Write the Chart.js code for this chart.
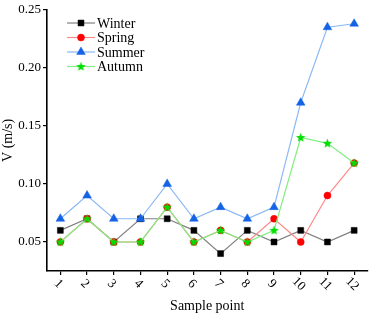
<!DOCTYPE html>
<html>
<head>
<meta charset="utf-8">
<script src="https://cdn.jsdelivr.net/npm/chart.js@4/dist/chart.umd.min.js"></script>
<style>
  html, body { margin: 0; padding: 0; background: #fff; }
  #wrap { width: 373px; height: 316px; }
</style>
</head>
<body>
<div id="wrap"><canvas id="c" width="373" height="316"></canvas></div>
<script>
const samplePoints = ['1','2','3','4','5','6','7','8','9','10','11','12'];
const winter = [0.06, 0.07, 0.05, 0.07, 0.07, 0.06, 0.04, 0.06, 0.05, 0.06, 0.05, 0.06];
const spring = [0.05, 0.07, 0.05, 0.05, 0.08, 0.05, 0.06, 0.05, 0.07, 0.05, 0.09, 0.118];
const summer = [0.07, 0.09, 0.07, 0.07, 0.10, 0.07, 0.08, 0.07, 0.08, 0.17, 0.235, 0.238];
const autumn = [0.05, 0.07, 0.05, 0.05, 0.08, 0.05, 0.06, 0.05, 0.06, 0.14, 0.135, 0.118];
const yTicks = [0.05, 0.10, 0.15, 0.20, 0.25];

const SERIF = '"Liberation Serif", "DejaVu Serif", serif';

// filled five point star for the autumn markers
function makeStar(color) {
  const cv = document.createElement('canvas');
  cv.width = 11; cv.height = 11;
  const g = cv.getContext('2d');
  g.fillStyle = color;
  g.beginPath();
  for (let i = 0; i < 10; i++) {
    const r = i % 2 === 0 ? 5 : 2.1;
    const a = -Math.PI / 2 + i * Math.PI / 5;
    const px = 5.5 + r * Math.cos(a), py = 5.8 + r * Math.sin(a);
    i === 0 ? g.moveTo(px, py) : g.lineTo(px, py);
  }
  g.closePath();
  g.fill();
  return cv;
}
const star = makeStar('#00dd00');

// order: lower number is drawn on top
const series = [
  { label: 'Winter', data: winter, line: '#808080', mark: '#000000', style: 'rect', r: 4.2, order: 3 },
  { label: 'Spring', data: spring, line: '#ff8a8a', mark: '#ff0000', style: 'circle', r: 3.5, order: 2 },
  { label: 'Summer', data: summer, line: '#8ab8f5', mark: '#1463e6', style: 'triangle', r: 5, order: 1 },
  { label: 'Autumn', data: autumn, line: '#80ee80', mark: '#00dd00', style: star, r: 5, order: 0 }
];

// rotated x labels (clockwise) and a line+marker legend
const extras = {
  id: 'extras',
  afterDraw(chart) {
    const ctx = chart.ctx;
    const xs = chart.scales.x;
    ctx.save();
    ctx.fillStyle = '#000';
    ctx.font = '13px ' + SERIF;
    ctx.textAlign = 'center';
    ctx.textBaseline = 'middle';
    samplePoints.forEach((lab, i) => {
      const px = xs.getPixelForTick(i);
      ctx.save();
      ctx.translate(px - 2, xs.top + 13);
      ctx.rotate(Math.PI / 4);
      ctx.fillText(lab, 0, 0);
      ctx.restore();
    });
    ctx.restore();

    ctx.save();
    ctx.font = '14px ' + SERIF;
    ctx.textBaseline = 'middle';
    ctx.textAlign = 'left';
    series.forEach((s, i) => {
      const y = 23 + i * 14.5;
      ctx.strokeStyle = s.line;
      ctx.lineWidth = 1.2;
      ctx.beginPath();
      ctx.moveTo(67, y); ctx.lineTo(95, y);
      ctx.stroke();
      ctx.fillStyle = s.mark;
      ctx.strokeStyle = s.mark;
      ctx.lineWidth = 0.5;
      Chart.helpers.drawPoint(ctx, { pointStyle: s.style, radius: s.r, rotation: 0, borderWidth: 0.5 }, 81, y);
      ctx.fillStyle = '#000';
      ctx.fillText(s.label, 97, y + 1);
    });
    ctx.restore();
  }
};

new Chart(document.getElementById('c'), {
  type: 'line',
  data: {
    labels: samplePoints,
    datasets: series.map(s => ({
      label: s.label,
      data: s.data,
      order: s.order,
      borderColor: s.line,
      borderWidth: 1.2,
      pointStyle: s.style,
      pointRadius: s.r,
      pointBackgroundColor: s.mark,
      pointBorderColor: s.mark,
      pointBorderWidth: 0.5,
      tension: 0,
      clip: false
    }))
  },
  options: {
    responsive: false,
    animation: false,
    layout: { padding: { top: 2, right: 1, left: 0, bottom: 0 } },
    plugins: { legend: { display: false }, tooltip: { enabled: false } },
    scales: {
      x: {
        type: 'category',
        offset: true,
        afterFit: s => { s.height = 45; },
        grid: { display: true, drawOnChartArea: false, drawTicks: true, tickLength: 4, color: '#000', lineWidth: 1.2 },
        border: { display: true, color: '#000', width: 1.6 },
        ticks: { color: 'rgba(0,0,0,0)', font: { family: SERIF, size: 13 }, maxRotation: 0, minRotation: 0 },
        title: { display: true, text: 'Sample point', color: '#000', font: { family: SERIF, size: 14 }, padding: { top: 0, bottom: 1 } }
      },
      y: {
        min: 0.025,
        max: 0.25,
        afterFit: s => { s.width = 47; },
        afterBuildTicks: s => { s.ticks = yTicks.map(v => ({ value: v })); },
        grid: { display: true, drawOnChartArea: false, drawTicks: true, tickLength: 4, color: '#000', lineWidth: 1.2 },
        border: { display: true, color: '#000', width: 1.6 },
        ticks: { color: '#000', font: { family: SERIF, size: 13 }, padding: 2, callback: v => Number(v).toFixed(2) },
        title: { display: true, text: 'V (m/s)', color: '#000', font: { family: SERIF, size: 14 }, padding: { top: 0, bottom: 0 } }
      }
    }
  },
  plugins: [extras]
});
</script>
</body>
</html>
